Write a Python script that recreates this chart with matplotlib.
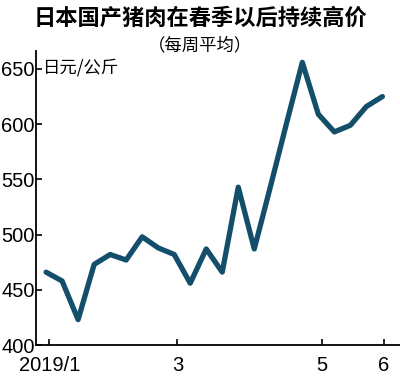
import matplotlib
matplotlib.use("Agg")
import matplotlib.pyplot as plt

# weekly average price of Japanese domestic pork (yen / kg)
week = list(range(22))
price = [466, 458, 423, 473, 482, 477, 498, 488, 482, 456,
         487, 466, 543, 487, 543, 600, 656, 609, 593, 599, 616, 625]

tick_pos = [0.2, 8.2, 17.2, 21.1]
tick_lab = ["2019/1", "3", "5", "6"]
yticks = [400, 450, 500, 550, 600, 650]

cjk = ["Noto Sans CJK SC", "DejaVu Sans"]
num_font = "Liberation Sans"

fig = plt.figure(figsize=(4, 3.8), dpi=100)
ax = fig.add_axes([0.09, 0.092, 0.91, 0.773])

ax.plot(week, price, color="#134f6b", lw=3.8, solid_joinstyle="round",
        solid_capstyle="round")

ax.set_xlim(-0.63, 22.1)
ax.set_ylim(400, 666)
ax.set_yticks(yticks)
ax.set_xticks(tick_pos)
ax.set_xticklabels(tick_lab)

for s in ["top", "right"]:
    ax.spines[s].set_visible(False)
ax.spines["left"].set_linewidth(1.3)
ax.spines["bottom"].set_linewidth(1.3)
ax.tick_params(direction="in", length=4, width=1.2)
ax.tick_params(axis="y", pad=1)
ax.tick_params(axis="x", pad=8)
for lab in ax.get_xticklabels() + ax.get_yticklabels():
    lab.set_fontfamily(num_font)
    lab.set_fontsize(14.5)

ax.text(0.02, 0.975, "日元/公斤", transform=ax.transAxes, fontsize=12.5,
        family=cjk, va="top", ha="left")

fig.text(0.5, 0.952, "日本国产猪肉在春季以后持续高价", fontsize=16,
         fontweight="bold", family=cjk, ha="center", va="center")
fig.text(0.5, 0.882, "（每周平均）", fontsize=12.5, family=cjk,
         ha="center", va="center")

fig.savefig("out.png", dpi=100)
